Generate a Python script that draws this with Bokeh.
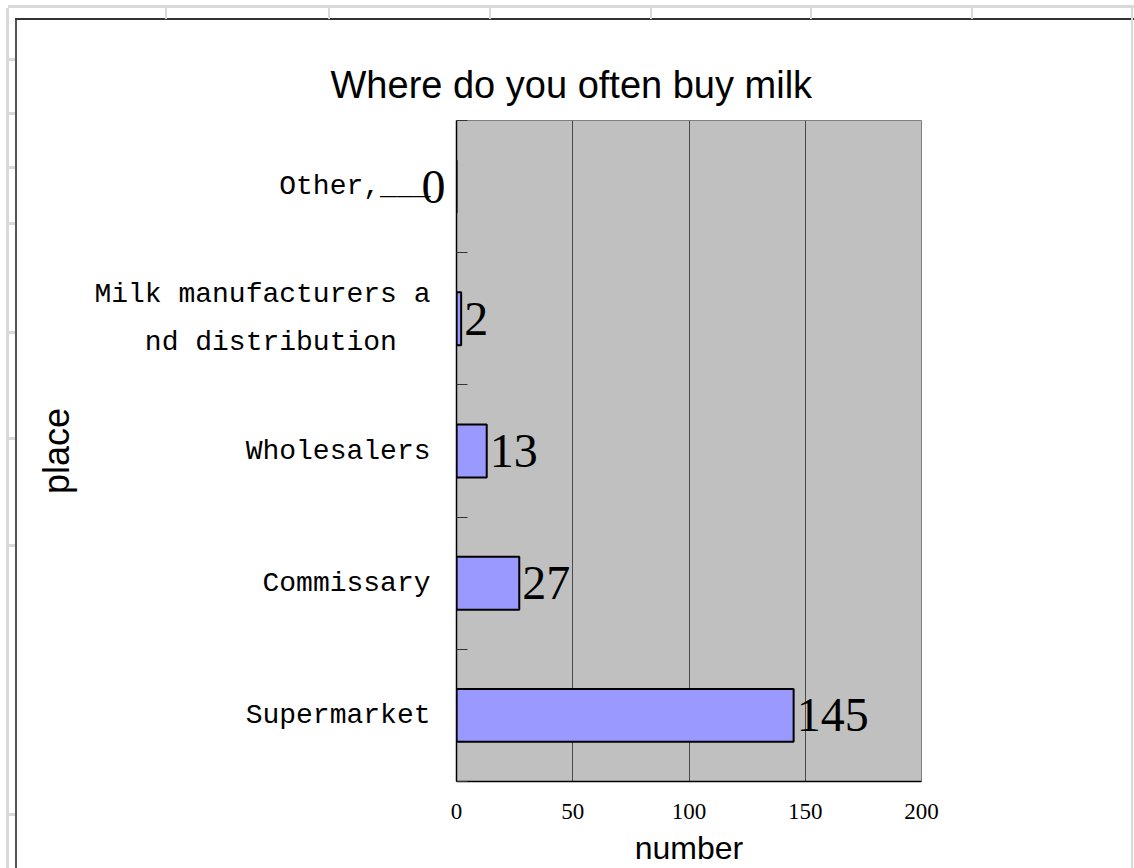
from bokeh.plotting import figure
from bokeh.models import Range1d, FixedTicker, Label, LinearAxis
from bokeh.embed import file_html
from bokeh.resources import INLINE

# ---- data ----
categories = ["Supermarket", "Commissary", "Wholesalers",
              "Milk manufacturers a\nnd distribution  ", "Other,___"]
values = [145, 27, 13, 2, 0]
x_ticks = [0, 50, 100, 150, 200]
title_text = "Where do you often  buy milk"
x_title = "number"
y_title = "place"

W, H = 1134, 868
n = len(categories)
ys = [i + 0.5 for i in range(n)]

# spreadsheet-style page background drawn with CSS (outside the chart)
grid_gray = "#D9D9D9"
rects = [(8, 5, 1126, 3, grid_gray), (6, 8, 3, 860, grid_gray), (1131, 8, 2, 860, grid_gray)]
rects += [(gx - 1, 8, 2, 11, grid_gray) for gx in [166, 329, 490, 651, 811, 972]]
rects += [(9, gy - 1, 6, 3, grid_gray) for gy in [59, 113, 167, 223, 332, 438, 545, 814]]
rects += [(15, 18, 1119, 2, "#333333"), (15, 19, 2, 849, "#555555")]
css = {
    "background-color": "white",
    "background-repeat": "no-repeat",
    "background-image": ", ".join(f"linear-gradient({c},{c})" for *_, c in rects),
    "background-position": ", ".join(f"{x}px {y}px" for x, y, w, h, c in rects),
    "background-size": ", ".join(f"{w}px {h}px" for x, y, w, h, c in rects),
}

p = figure(width=W, height=H, output_backend="svg", toolbar_location=None,
           x_range=Range1d(0, 200), y_range=Range1d(0, n),
           min_border_left=456, min_border_right=213,
           min_border_top=120, min_border_bottom=86,
           background_fill_color="#C0C0C0", border_fill_color=None,
           outline_line_color="#808080", outline_line_width=1,
           title=title_text)
p.styles = css

# title
p.title.align = "left"
p.title.offset = -126
p.title.standoff = 29
p.title.text_font = "Liberation Sans"
p.title.text_font_size = "38px"
p.title.text_font_style = "normal"
p.title.text_color = "black"

# bars
p.hbar(y=ys, left=0, right=values, height=0.4,
       fill_color="#9999FF", line_color="black", line_width=2)

# value labels (non-zero inside the plot area)
for v, y in zip(values, ys):
    if v > 0:
        p.add_layout(Label(x=v, y=y, text=str(v), x_offset=3, text_align="left",
                           text_baseline="middle", text_font="Liberation Serif",
                           text_font_size="48px", text_color="black"))

# x axis
p.xaxis.ticker = FixedTicker(ticks=x_ticks)
p.xaxis.major_tick_line_color = None
p.xaxis.minor_tick_line_color = None
p.xaxis.major_tick_in = 0
p.xaxis.major_tick_out = 0
p.xaxis.major_label_standoff = 22
p.xaxis.major_label_text_font = "Liberation Serif"
p.xaxis.major_label_text_font_size = "23px"
p.xaxis.major_label_text_color = "black"
p.xaxis.axis_line_color = "black"
p.xaxis.axis_line_width = 1.5
p.xaxis.axis_label = x_title
p.xaxis.axis_label_standoff = 8
p.xaxis.axis_label_text_font = "Liberation Sans"
p.xaxis.axis_label_text_font_size = "32px"
p.xaxis.axis_label_text_font_style = "normal"
p.xaxis.axis_label_text_color = "black"

# inner y axis: axis line, boundary ticks and the label of the zero-valued bar
zero_ticks = [y for y, v in zip(ys, values) if v == 0]
inner = LinearAxis(ticker=FixedTicker(ticks=zero_ticks, minor_ticks=list(range(n + 1))))
inner.major_label_overrides = {y: str(v) for y, v in zip(ys, values) if v == 0}
inner.major_tick_line_color = None
inner.major_tick_in = 0
inner.major_tick_out = 0
inner.minor_tick_in = 11
inner.minor_tick_out = 0
inner.minor_tick_line_color = "#333333"
inner.major_label_standoff = 11
inner.major_label_text_font = "Liberation Serif"
inner.major_label_text_font_size = "48px"
inner.major_label_text_color = "black"
inner.axis_line_color = "black"
inner.axis_line_width = 1.5
p.left.insert(0, inner)

# outer y axis: category names
ya = None
for ax in p.left:
    if ax is not inner:
        ya = ax
ya.ticker = FixedTicker(ticks=ys)
ya.major_label_overrides = {y: c for y, c in zip(ys, categories)}
ya.major_tick_line_color = None
ya.minor_tick_line_color = None
ya.major_tick_in = 0
ya.major_tick_out = 0
ya.axis_line_color = None
ya.major_label_standoff = -12
ya.major_label_text_font = "Liberation Mono"
ya.major_label_text_font_size = "28px"
ya.major_label_text_color = "black"
ya.major_label_text_line_height = 1.55
ya.axis_label = y_title
ya.axis_label_standoff = 14
ya.axis_label_text_font = "Liberation Sans"
ya.axis_label_text_font_size = "36px"
ya.axis_label_text_font_style = "normal"
ya.axis_label_text_color = "black"

# grid
p.xgrid.ticker = FixedTicker(ticks=x_ticks)
p.xgrid.grid_line_color = "#4a4a4a"
p.xgrid.grid_line_width = 1
p.ygrid.visible = False

open("out.html", "w").write(file_html(p, INLINE))
